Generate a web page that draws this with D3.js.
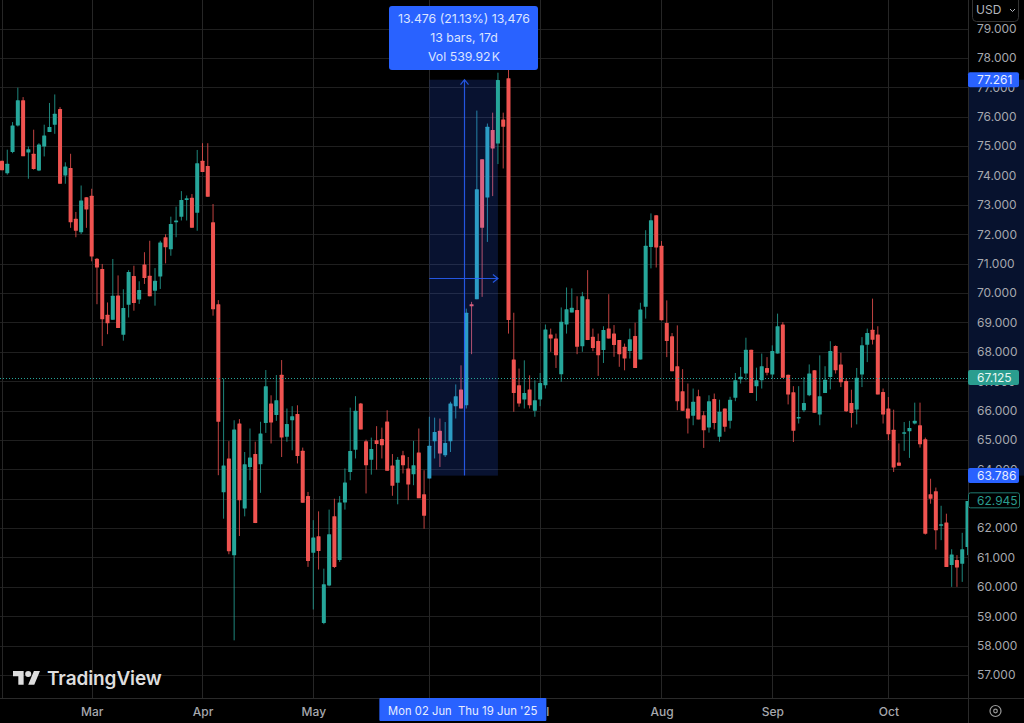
<!DOCTYPE html>
<html>
<head>
<meta charset="utf-8">
<script src="https://cdn.jsdelivr.net/npm/d3@7"></script>
<style>
  html, body { margin: 0; padding: 0; background: #000; overflow: hidden; }
  svg { display: block; font-family: Inter, "Liberation Sans", sans-serif; }
</style>
</head>
<body>
<svg id="chart" width="1024" height="723"></svg>
<script>
// values, one entry per daily bar
let opens = [
  74.5,74.08,74.8,75.7,76.56,74.78,74.74,74.17,74.99,75.48,
  75.73,76.26,74,74.26,72.53,72.07,73.26,73.31,71.17,70.82,
  69.26,69.09,69.92,68.58,69.6,70.58,69.78,70.97,70.59,70.08,
  70.56,71.9,71.49,72.41,72.6,73.17,73.24,72.73,74.5,74.32,
  72.41,69.62,63.22,64.37,61.08,65.56,62.67,64.08,64.52,64.17,
  65.58,66.24,65.85,67.22,65.11,65.67,65.88,64.63,63.09,61.16,
  61.72,58.77,60.05,62.4,60.91,62.87,63.91,64.67,66.24,64.96,
  64.33,64.99,65.03,65.63,64.13,63.54,64.48,64.03,63.83,64.57,
  63.15,63.69,64.96,65.31,64.48,64.96,66.15,66.72,66.18,69.62,
  69.79,74.55,73.25,75.55,75.09,75.91,77.31,67.74,66.86,66.38,
  66.72,65.99,66.38,66.86,68.59,68.45,67.24,68.93,69.34,69.42,
  68.19,69.79,68.51,68.37,68.06,68.79,68.62,68.4,68.17,68.03,
  68.54,67.74,69.53,71.57,72.65,71.61,68.98,68.53,67.51,66.66,
  66.07,65.82,66.49,65.84,65.42,66.39,65.11,66.07,65.65,66.44,
  67.07,67.26,68.07,66.83,67.03,67.45,67.23,67.94,68.93,67.22,
  66.62,65.73,66.01,66.52,67.37,65.87,66.6,67.14,68.2,67.57,
  67.01,66.26,66.04,67.23,68.24,68.75,68.59,66.63,66.07,65.35,
  64.23,65.22,65.3,65.56,65.5,65.02,63.15,63.25,62.09,62.19,
  60.74,60.91,60.79,61.36
];
let highs = [
  74.5,74.88,75.82,76.99,76.67,74.99,75.56,75.1,75.73,76.47,
  76.76,76.33,74.45,74.74,72.76,73.66,73.26,73.55,71.19,70.99,
  69.68,71.16,70.6,70.13,70.78,70.93,70.4,71.39,71.78,70.85,
  71.78,72,72.6,72.94,73.47,73.32,73.37,74.87,75.1,75.1,
  73.03,69.76,67.09,64.96,65.67,65.71,64.59,65.39,64.94,65.62,
  67.38,66.52,67.21,67.72,66.07,66.15,66.18,64.74,63.23,62.27,
  62.57,60.62,62.63,63,63.09,64.03,66.1,66.49,66.26,65.01,
  65.08,65.47,65.42,66.01,64.52,64.42,64.63,64.42,64.97,65.39,
  63.97,65.79,65.76,65.73,65.61,66.3,66.89,67.54,69.47,69.7,
  76.21,74.55,75.77,76.14,77.5,76.14,77.6,69.33,67.43,67.71,
  67.2,67.03,67.28,68.93,68.79,68.62,69.51,70.19,70.16,69.89,
  70.04,70.78,68.79,68.62,68.87,69.96,68.91,68.4,68.28,68.79,
  68.99,69.67,72.14,72.71,72.65,71.77,69.75,68.64,68.9,67.41,
  66.92,66.75,66.71,65.98,66.52,66.58,66.37,66.07,66.47,67.28,
  67.48,68.48,68.07,67.46,67.94,67.82,68.22,69.3,69.01,67.22,
  66.83,66.83,67.14,67.57,67.37,67.88,67.51,68.36,68.22,67.97,
  67.09,66.71,67.45,68.5,68.79,69.81,68.87,66.75,66.46,66.03,
  64.88,65.61,65.65,66.27,66.27,65.08,63.68,63.38,62.76,62.49,
  61.28,61.08,61.84,62.92
];
let lows = [
  74.18,74.03,74.76,75.67,74.66,73.89,74.2,74.15,74.65,75.48,
  75.42,73.72,73.72,72.22,71.9,72.01,72.22,71.08,69.62,68.2,
  68.6,69.09,68.81,68.38,69.17,69.4,69.63,70.31,69.89,69.57,
  70.14,71.01,71.27,71.9,72.47,72.47,72.22,72.12,74.12,73.28,
  69.23,63.8,62.32,61.11,58.18,61.73,62.4,63.63,62.17,63.2,
  65.24,64.88,65.65,64.42,64.94,64.65,64.2,62.86,60.68,59.23,
  60.59,58.73,60.02,60.64,60.85,62.63,63.63,64.37,65.36,63.18,
  63.82,63.99,64.37,63.95,63.1,62.81,63.86,62.95,63.46,63.02,
  61.98,63.69,64.37,64.08,64.42,64.59,65.73,66.07,66.07,67.92,
  69.79,69.87,71.74,73.3,74.39,74.24,68.62,65.96,66.13,66.07,
  66.07,65.79,66.15,66.75,68,67.45,66.98,68.62,69.34,67.92,
  68,68.4,68.02,67.18,67.62,68.45,67.83,67.49,67.37,67.77,
  67.45,67.74,69.13,70.84,70.87,69.07,67.82,67.34,66.01,65.99,
  65.22,65.5,65.7,64.73,65.25,65.36,64.94,65.28,65.39,66.32,
  66.92,67.03,66.6,66.33,66.75,67.2,67.09,67.94,67.12,66.21,
  64.93,65.56,65.95,66.49,65.93,65.5,66.6,66.72,67.26,66.8,
  65.95,65.42,65.53,66.8,67.65,68.25,66.55,65.56,64.99,63.91,
  64.12,64.63,64.39,65.53,64.74,61.78,62.83,61.27,61.59,60.68,
  60,60,60.17,61.08
];
let closes = [
  74.18,74.4,75.7,76.56,74.66,74.89,74.22,75.06,75.36,75.65,
  76.1,73.72,74.31,72.41,72.12,73.15,72.84,71.24,70.87,69.11,
  68.97,69.91,68.81,69.49,70.72,69.66,70.1,70.51,69.89,70.42,
  71.72,71.56,72.35,72.47,73.17,73.23,72.22,74.42,74.12,73.28,
  69.45,65.62,64.13,61.21,65.36,62.95,64.17,64.4,62.17,65.22,
  66.83,65.59,66.35,65.08,65.54,65.81,64.45,62.86,60.88,61.68,
  61.22,60.09,61.79,60.68,62.87,63.55,64.62,65.99,65.36,64.14,
  64.69,64.86,64.82,63.95,63.44,64.33,64.14,63.48,64.14,63.02,
  62.42,64.8,65.27,64.54,64.9,66.24,66.49,66.07,69.33,69.55,
  73.53,72.22,75.66,74.92,77.25,75.66,69.08,66.6,66.24,66.6,
  66.18,66.35,66.94,68.76,68.45,67.88,69.02,69.45,69.5,68.17,
  69.89,68.4,68.13,67.88,68.74,68.45,68.23,67.92,67.77,68.43,
  67.45,69.44,71.61,72.48,71.55,69.07,68.37,67.34,66.32,65.99,
  65.73,66.3,65.7,65.33,66.32,65.58,65.96,65.45,66.37,67.03,
  67.15,68.07,66.6,67.03,67.51,67.29,68.03,68.87,67.12,66.55,
  65.31,65.78,66.26,67.26,65.93,66.49,67.05,68.03,67.37,66.96,
  65.98,65.92,67.12,68.22,68.64,68.41,66.55,65.87,65.19,64.06,
  64.12,65.26,65.41,65.65,64.85,61.81,63,61.93,62.13,60.68,
  61.1,60.66,61.28,62.92
];

let priceTicks = [57,58,59,60,61,62,63,64,65,66,67,68,69,70,71,72,73,74,75,76,77,78,79];
let monthBars = [0,17,38,59,81,102,125,146,168];
// Jun sits under the date label in the original, so it has no text of its own
let monthNames = ["","Mar","Apr","May","","Jul","Aug","Sep","Oct"];

let rangeStartBar = 81, rangeEndBar = 94;
let rangeLow = 63.786, rangeHigh = 77.261;
let lastPrice = 62.945, markedPrice = 67.125;
let rangeLines = ["13.476 (21.13%) 13,476", "13 bars, 17d", "Vol 539.92\u200aK"];

let red = "#ef5350", green = "#26a69a", blue = "#2962ff";
let redTinted = "#d9607f", greenTinted = "#2c9cc4";
let axisText = "#a6a8ae", gridColor = "#1f1f1f", vGridColor = "#262626";

let svg = d3.select("#chart");
svg.append("rect").attr("width", 1024).attr("height", 723).attr("fill", "#000");

let x = d3.scaleLinear().domain([0, 183]).range([2, 967.5]);
let y = d3.scaleLinear().domain([57, 78]).range([675, 58]);

let panelX = 968, axisY = 698;

// grid
svg.append("g").selectAll("line").data(priceTicks).enter().append("line")
    .attr("x1", 0).attr("x2", panelX)
    .attr("y1", d => Math.round(y(d)) + 0.5).attr("y2", d => Math.round(y(d)) + 0.5)
    .attr("stroke", gridColor);
svg.append("g").selectAll("line").data(monthBars).enter().append("line")
    .attr("x1", d => Math.round(x(d)) + 0.5).attr("x2", d => Math.round(x(d)) + 0.5)
    .attr("y1", 0).attr("y2", axisY)
    .attr("stroke", vGridColor);

// measured range background
let rx0 = x(rangeStartBar), rx1 = x(rangeEndBar);
let ry0 = y(rangeHigh), ry1 = y(rangeLow);
let midX = Math.round((rx0 + rx1) / 2) + 0.5, midY = Math.round((ry0 + ry1) / 2) + 0.5;
svg.append("rect")
    .attr("x", rx0).attr("y", ry0).attr("width", rx1 - rx0).attr("height", ry1 - ry0)
    .attr("fill", blue).attr("opacity", 0.19);

// candles, tinted where the measured range covers them
function candleColor(i) {
  let up = closes[i] >= opens[i];
  let inRange = i >= rangeStartBar && i < rangeEndBar;
  if (inRange) return up ? greenTinted : redTinted;
  return up ? green : red;
}
let bars = d3.range(opens.length);
let candles = svg.append("g").selectAll("g").data(bars).enter().append("g")
    .attr("fill", candleColor);
candles.append("rect")
    .attr("x", i => x(i) - 0.5).attr("width", 1)
    .attr("y", i => y(highs[i])).attr("height", i => y(lows[i]) - y(highs[i]))
    .attr("opacity", 0.8);
candles.append("rect")
    .attr("x", i => x(i) - 2).attr("width", 4)
    .attr("y", i => y(Math.max(opens[i], closes[i])))
    .attr("height", i => Math.max(1.5, Math.abs(y(opens[i]) - y(closes[i]))))
    .attr("rx", 0.5);

// current price dotted line
let markedY = Math.round(y(markedPrice)) + 0.5;
svg.append("line")
    .attr("x1", 0).attr("x2", panelX)
    .attr("y1", markedY).attr("y2", markedY)
    .attr("stroke", green).attr("stroke-dasharray", "1 2");

let arrows = svg.append("g").attr("stroke", blue).attr("fill", "none").attr("stroke-width", 1.2).attr("opacity", 0.85);
arrows.append("path").attr("d", `M${midX},${ry1}V${ry0}M${midX - 4},${ry0 + 5}L${midX},${ry0}L${midX + 4},${ry0 + 5}`);
arrows.append("path").attr("d", `M${rx0},${midY}H${rx1}M${rx1 - 5},${midY - 4}L${rx1},${midY}L${rx1 - 5},${midY + 4}`);

let rangeBox = svg.append("g");
rangeBox.append("rect")
    .attr("x", 389).attr("y", 6).attr("width", 149).attr("height", 64).attr("rx", 3)
    .attr("fill", blue);
rangeBox.selectAll("text").data(rangeLines).enter().append("text")
    .attr("x", 464).attr("y", (d, i) => 19 + i * 19)
    .attr("dy", "0.35em").attr("text-anchor", "middle")
    .attr("font-size", 12.3).attr("fill", "#dbe4ff").text(d => d);

// logo
let logo = svg.append("g").attr("fill", "#dedede");
logo.append("path").attr("transform", "translate(13,668) scale(0.76)")
    .attr("d", "M14 22H7V11H0V4h14v18zM28 22h-8l7.5-18h8L28 22z");
logo.append("circle").attr("transform", "translate(13,668) scale(0.76)")
    .attr("cx", 20).attr("cy", 8).attr("r", 4);
logo.append("text").attr("x", 47).attr("y", 685)
    .attr("font-size", 19).attr("font-weight", 600).attr("letter-spacing", -0.1)
    .text("TradingView");

// price axis panel
svg.append("rect").attr("x", panelX).attr("y", 0).attr("width", 56).attr("height", 723).attr("fill", "#000");
svg.append("rect").attr("x", panelX).attr("y", ry0).attr("width", 56).attr("height", ry1 - ry0)
    .attr("fill", blue).attr("opacity", 0.18);
svg.append("line").attr("x1", panelX + 0.5).attr("x2", panelX + 0.5).attr("y1", 0).attr("y2", 723).attr("stroke", "#2a2a2a");

let priceAxis = svg.append("g")
    .attr("transform", `translate(${panelX},0)`)
    .call(d3.axisRight(y).tickValues(priceTicks).tickFormat(d3.format(".3f")).tickSize(0).tickPadding(9));
priceAxis.select(".domain").remove();
priceAxis.selectAll("text").attr("fill", axisText).attr("font-size", 12).attr("font-family", "Inter");

// time axis
svg.append("rect").attr("x", 0).attr("y", axisY).attr("width", panelX).attr("height", 25).attr("fill", "#000");
svg.append("line").attr("x1", 0).attr("x2", 1024).attr("y1", axisY + 0.5).attr("y2", axisY + 0.5).attr("stroke", "#2a2a2a");
let timeAxis = svg.append("g")
    .attr("transform", `translate(0,${axisY})`)
    .call(d3.axisBottom(x).tickValues(monthBars).tickFormat((d, i) => monthNames[i]).tickSize(0).tickPadding(9));
timeAxis.select(".domain").remove();
timeAxis.selectAll("text").attr("fill", axisText).attr("font-size", 12).attr("font-family", "Inter").attr("font-weight", 500);

// range labels on the axes
let dateBox = svg.append("g");
dateBox.append("rect").attr("x", x(rangeStartBar) - 50).attr("y", axisY).attr("width", 167).attr("height", 23).attr("rx", 1).attr("fill", blue);
dateBox.append("text").attr("x", 388).attr("y", 711).attr("dy", "0.35em")
    .attr("font-size", 11.2).attr("letter-spacing", 0.05).attr("fill", "#e6ecff").text("Mon 02 Jun");
dateBox.append("text").attr("x", 458).attr("y", 711).attr("dy", "0.35em")
    .attr("font-size", 11.4).attr("fill", "#e6ecff").text("Thu 19 Jun '25");

function priceLabel(value, fill, stroke, textColor) {
  let g = svg.append("g").attr("transform", `translate(${panelX},${y(value)})`);
  g.append("rect").attr("x", stroke ? 0.5 : 0).attr("y", -7.5).attr("width", 51).attr("height", 15).attr("rx", 2)
      .attr("fill", fill).attr("stroke", stroke || "none");
  g.append("text").attr("x", 9).attr("dy", "0.35em")
      .attr("font-size", 12).attr("fill", textColor)
      .text(d3.format(".3f")(value));
}
priceLabel(rangeHigh, blue, null, "#e6ecff");
priceLabel(markedPrice, "#2a9d8f", null, "#e6f5f2");
priceLabel(rangeLow, blue, null, "#e6ecff");
priceLabel(lastPrice, "#000", "#1f7a70", "#2a9d8f");

// currency button
let usd = svg.append("g");
usd.append("rect").attr("x", 972.5).attr("y", -6).attr("width", 46).attr("height", 27.5).attr("rx", 4)
    .attr("fill", "#000").attr("stroke", "#333");
usd.append("text").attr("x", 976).attr("y", 10).attr("dy", "0.35em")
    .attr("font-size", 12).attr("fill", "#b4b6bc").text("USD");
usd.append("path").attr("d", "M1010,9l2.5,2.5l2.5,-2.5").attr("fill", "none").attr("stroke", "#b4b6bc");

// settings icon
let gear = svg.append("g").attr("fill", "none").attr("stroke", "#9a9a9a").attr("stroke-width", 1.2);
gear.append("circle").attr("cx", 995.5).attr("cy", 711).attr("r", 5.5);
gear.append("circle").attr("cx", 995.5).attr("cy", 711).attr("r", 1.8);
</script>
</body>
</html>
